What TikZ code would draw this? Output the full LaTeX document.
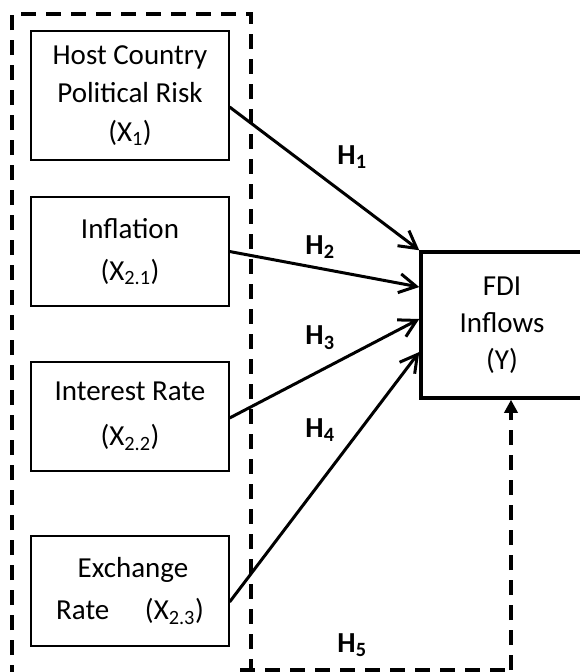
\documentclass[tikz,border=0pt]{standalone}
\usepackage{fontspec}
\setmainfont{Carlito}
\usetikzlibrary{arrows.meta}
\begin{document}
\begin{tikzpicture}[x=1pt,y=-1pt,
  varbox/.style={draw, line width=1.2pt, minimum width=198pt, align=center, inner sep=0pt},
  depbox/.style={draw, line width=3.5pt, minimum width=162pt, minimum height=146pt, align=center, inner sep=0pt,
    font=\fontsize{29}{37}\selectfont},
  hyp/.style={font=\fontsize{29}{30}\selectfont\bfseries, inner sep=0pt},
  link/.style={line width=3pt, -{Straight Barb[length=17pt,width=19pt,line width=3pt]}},
  dashline/.style={line width=3.5pt, dash pattern=on 15pt off 10pt}]
\useasboundingbox (0,0) rectangle (580,672);

\node[varbox, minimum height=129pt, font=\fontsize{29}{38.5}\selectfont] (b1) at (130,95.5)
  {Host Country\\Political Risk\\(X\textsubscript{1})};
\node[varbox, minimum height=109pt, font=\fontsize{29}{42}\selectfont] (b2) at (130,251.5)
  {Inflation\\(X\textsubscript{2.1})};
\node[varbox, minimum height=109pt, font=\fontsize{29}{45}\selectfont] (b3) at (130,416.5)
  {Interest Rate\\(X\textsubscript{2.2})};
\node[varbox, minimum height=110pt, font=\fontsize{29}{42}\selectfont] (b4) at (130,591)
  {\hspace*{6pt}Exchange\\Rate\quad\ (X\textsubscript{2.3})};

\node[depbox] (fdi) at (502,325) {FDI\\Inflows\\(Y)};

% outer dashed group
\coordinate (gbl) at (12,680);
\coordinate (gtl) at (12,14);
\coordinate (gtr) at (251,14);
\coordinate (gbr) at (251,680);
\draw[dashline] (gbl) -- (gtl) -- (gtr) -- (gbr);

% hypotheses arrows
\draw[link] ([yshift=-11.5pt]b1.east) -- (fdi.north west);
\draw[link] (b2.east) -- ([yshift=38pt]fdi.west);
\draw[link] ([yshift=-1.5pt]b3.east) -- ([yshift=6pt]fdi.west);
\draw[link] ([yshift=-11pt]b4.east) -- ([yshift=-27pt]fdi.west);

% H5 dashed connector
\coordinate (h5a) at (240,670);
\coordinate (h5b) at (511,670);
\draw[dashline] (h5a) -- (h5b);
\draw[line width=3.5pt, dash pattern=on 15pt off 10pt, -{Triangle[length=13pt,width=13pt]}]
  (h5b) -- (fdi.south -| h5b);

\node[hyp] (h1) at (352,157) {H\textsubscript{1}};
\node[hyp] (h2) at (320,247) {H\textsubscript{2}};
\node[hyp] (h3) at (320,338) {H\textsubscript{3}};
\node[hyp] (h4) at (320,430) {H\textsubscript{4}};
\node[hyp] (h5) at (352,645) {H\textsubscript{5}};
\end{tikzpicture}
\end{document}
